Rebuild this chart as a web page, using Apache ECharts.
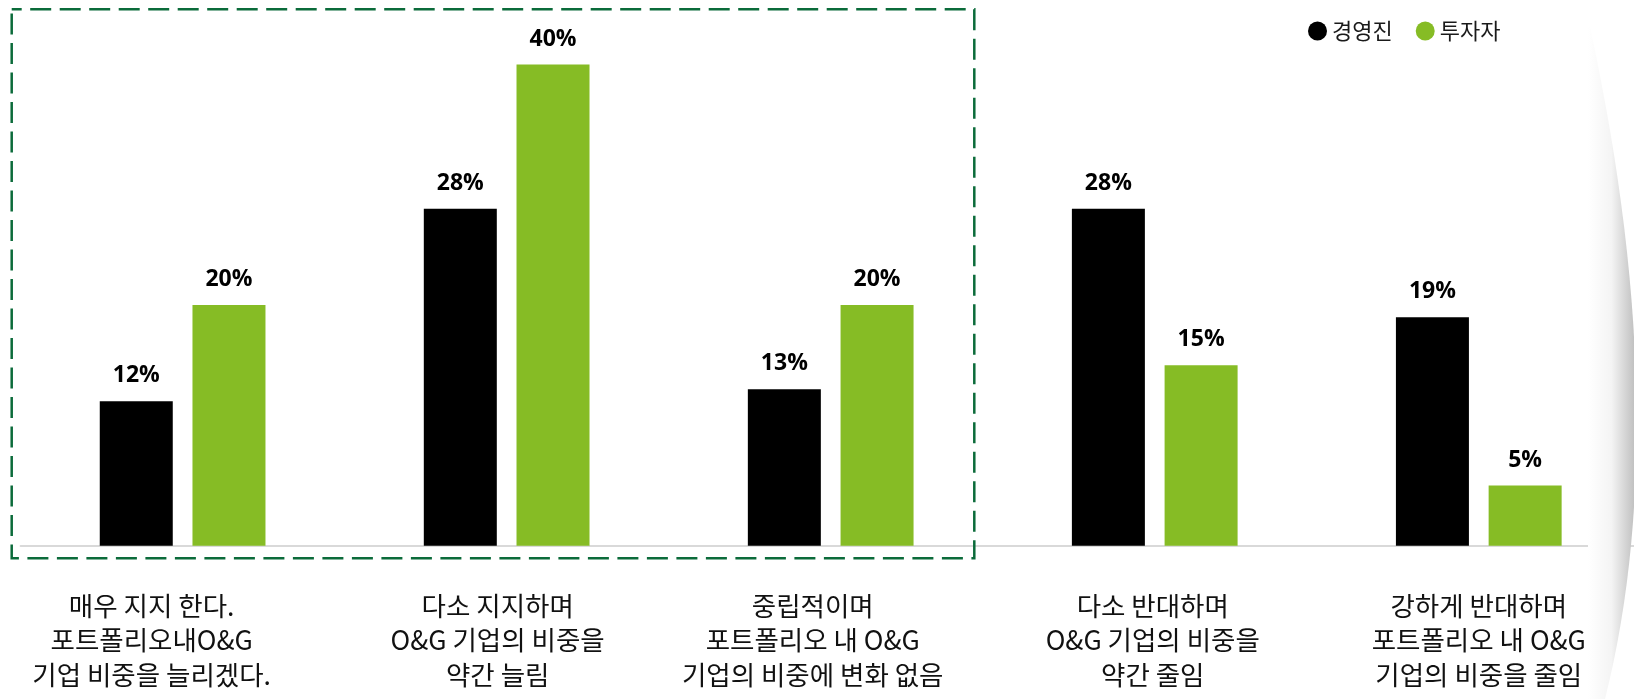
<!DOCTYPE html>
<html><head><meta charset="utf-8">
<script src="https://cdn.jsdelivr.net/npm/echarts@6/dist/echarts.min.js"></script>
<style>html,body{margin:0;padding:0;background:#fff}#c{width:1634px;height:699px}</style>
</head><body><div id="c"></div>
<script>
const categories = [
  '매우 지지 한다.\n포트폴리오내O&G\n기업 비중을 늘리겠다.',
  '다소 지지하며\nO&G 기업의 비중을\n약간 늘림',
  '중립적이며\n포트폴리오 내 O&G\n기업의 비중에 변화 없음',
  '다소 반대하며\nO&G 기업의 비중을\n약간 줄임',
  '강하게 반대하며\n포트폴리오 내 O&G\n기업의 비중을 줄임'
];
const seriesNames = ['경영진', '투자자'];
const executives = [12, 28, 13, 28, 19];
const investors = [20, 40, 20, 15, 5];
const yMax = 40;

// layout: how far (px) each category label sits left of its bar pair in the original
const labelShiftLeft = [31, 9, 18, 2, 0];

// decorative page-curl outline (quadratic curve on the right edge)
const curlPts = [[1588, 699], [1588, 27]];
for (let i = 0; i <= 30; i++) {
  const t = i / 30;
  const x = (1 - t) * (1 - t) * 1590 + 2 * (1 - t) * t * 1675 + t * t * 1605;
  const y = (1 - t) * (1 - t) * 27 + 2 * (1 - t) * t * 420 + t * t * 699;
  curlPts.push([x, y]);
}

const catFont = {fontFamily: 'Noto Sans CJK KR', fontSize: 26.5, lineHeight: 34.5, color: '#111'};
const rich = {};
labelShiftLeft.forEach((s, i) => {
  rich['c' + i] = Object.assign({padding: [0, 2 * s, 0, 0]}, catFont);
});

const chart = echarts.init(document.getElementById('c'), null, {renderer: 'canvas'});
const labelStyle = {
  show: true, position: 'top', distance: 14, formatter: '{c}%',
  fontFamily: 'Open Sans', fontWeight: 'bold', fontSize: 23, color: '#000'
};
chart.setOption({
  animation: false,
  backgroundColor: '#fff',
  legend: {
    left: 1303, top: 15, icon: 'circle', itemWidth: 19, itemHeight: 19, itemGap: 23,
    textStyle: {fontFamily: 'Noto Sans CJK KR', fontSize: 22, color: '#1a1a1a'},
    data: seriesNames
  },
  grid: {left: 20.6, width: 1620.2, top: 64.5, bottom: 153.3, containLabel: false, outerBoundsMode: 'none'},
  xAxis: {
    type: 'category', data: categories,
    axisTick: {show: false},
    axisLine: {lineStyle: {color: '#d9d9d9', width: 2}},
    axisLabel: Object.assign({
      interval: 0, margin: 42.5,
      formatter: (v, i) => v.split('\n').map(l => '{c' + i + '|' + l + '}').join('\n'),
      rich: rich
    }, catFont)
  },
  yAxis: {type: 'value', min: 0, max: yMax, show: false, splitLine: {show: false}},
  series: [
    {name: seriesNames[0], type: 'bar', data: executives, barWidth: 73, barGap: '27%', itemStyle: {color: '#000000'}, label: labelStyle},
    {name: seriesNames[1], type: 'bar', data: investors, barWidth: 73, barGap: '27%', itemStyle: {color: '#86bc25'}, label: labelStyle}
  ],
  graphic: [
    {type: 'rect', z: 50, silent: true,
     shape: {x: 11.7, y: 9.3, width: 962.6, height: 549},
     style: {fill: 'none', stroke: '#0b6b3a', lineWidth: 2.5, lineDash: [21, 8.5], lineDashOffset: 11}},
    {type: 'polygon', z: 100, silent: true,
     shape: {points: curlPts},
     style: {fill: {type: 'linear', x: 1588, y: 0, x2: 1640, y2: 0, global: true,
       colorStops: [{offset: 0, color: '#ffffff'}, {offset: 0.45, color: '#f4f4f4'}, {offset: 1, color: '#b4b4b4'}]}}}
  ]
});
</script></body></html>
